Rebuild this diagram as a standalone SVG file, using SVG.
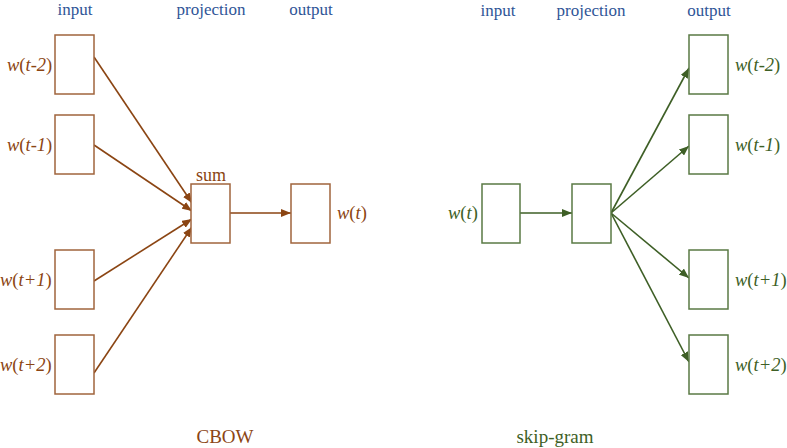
<svg xmlns="http://www.w3.org/2000/svg" width="787" height="448" viewBox="0 0 787 448">
<style>
.hdr{font-family:"Liberation Serif",serif;font-size:17px;fill:#2f5597;text-anchor:middle}
.lbl{font-family:"Liberation Serif",serif;font-size:18.5px}
.it{font-style:italic}
.b{fill:#8b4513}
.g{fill:#3e5f26}
.bbox{fill:#fff;stroke:#a0643c;stroke-width:1.5}
.gbox{fill:#fff;stroke:#5a7a44;stroke-width:1.5}
.bl{stroke:#8b4513;stroke-width:1.6;fill:none;marker-end:url(#ab)}
.gl{stroke:#3e5f26;stroke-width:1.6;fill:none;marker-end:url(#ag)}
.cap{font-family:"Liberation Serif",serif;font-size:19px;text-anchor:middle}
</style>
<defs>
<marker id="ab" markerWidth="10" markerHeight="8" refX="10" refY="4" orient="auto" markerUnits="userSpaceOnUse"><path d="M0,0 L10,4 L0,8 z" fill="#8b4513"/></marker>
<marker id="ag" markerWidth="10" markerHeight="8" refX="10" refY="4" orient="auto" markerUnits="userSpaceOnUse"><path d="M0,0 L10,4 L0,8 z" fill="#3e5f26"/></marker>
</defs>
<rect width="787" height="448" fill="#fff"/>
<g id="headers">
<text class="hdr" x="75" y="15">input</text>
<text class="hdr" x="211" y="15">projection</text>
<text class="hdr" x="311" y="15">output</text>
<text class="hdr" x="498" y="16">input</text>
<text class="hdr" x="591" y="16">projection</text>
<text class="hdr" x="709" y="16">output</text>
</g>
<g id="connectors">
<line class="bl" x1="94" y1="57" x2="192" y2="203"/>
<line class="bl" x1="94" y1="145" x2="192" y2="211"/>
<line class="bl" x1="94" y1="281" x2="192" y2="219"/>
<line class="bl" x1="94" y1="373" x2="192" y2="227"/>
<line class="bl" x1="230" y1="213" x2="291" y2="213"/>
<line class="gl" x1="520" y1="213" x2="572" y2="213"/>
<line class="gl" x1="611" y1="213" x2="689" y2="68"/>
<line class="gl" x1="611" y1="213" x2="689" y2="146"/>
<line class="gl" x1="611" y1="213" x2="689" y2="278"/>
<line class="gl" x1="611" y1="213" x2="689" y2="362"/>
</g>
<g id="cbow-in-t-2"><rect class="bbox" x="55" y="35" width="39" height="59"/><text class="lbl b" x="7" y="71"><tspan class="it">w</tspan>(<tspan class="it">t-2</tspan>)</text></g>
<g id="cbow-in-t-1"><rect class="bbox" x="55" y="115" width="39" height="59"/><text class="lbl b" x="7" y="151"><tspan class="it">w</tspan>(<tspan class="it">t-1</tspan>)</text></g>
<g id="cbow-in-t+1"><rect class="bbox" x="55" y="250" width="39" height="59"/><text class="lbl b" x="0" y="286"><tspan class="it">w</tspan>(<tspan class="it">t+1</tspan>)</text></g>
<g id="cbow-in-t+2"><rect class="bbox" x="55" y="335" width="39" height="59"/><text class="lbl b" x="0" y="371"><tspan class="it">w</tspan>(<tspan class="it">t+2</tspan>)</text></g>
<g id="cbow-sum"><rect class="bbox" x="191" y="184" width="39" height="59"/><text class="lbl b" x="211" y="181" text-anchor="middle" style="font-size:18px">sum</text></g>
<g id="cbow-out"><rect class="bbox" x="291" y="184" width="39" height="59"/><text class="lbl b" x="337" y="219"><tspan class="it">w</tspan>(<tspan class="it">t</tspan>)</text></g>
<g id="sg-in"><rect class="gbox" x="482" y="184" width="38" height="59"/><text class="lbl g" x="448" y="219"><tspan class="it">w</tspan>(<tspan class="it">t</tspan>)</text></g>
<g id="sg-proj"><rect class="gbox" x="572" y="184" width="39" height="59"/></g>
<g id="sg-out-t-2"><rect class="gbox" x="689" y="35" width="39" height="59"/><text class="lbl g" x="735" y="71"><tspan class="it">w</tspan>(<tspan class="it">t-2</tspan>)</text></g>
<g id="sg-out-t-1"><rect class="gbox" x="689" y="115" width="39" height="59"/><text class="lbl g" x="735" y="151"><tspan class="it">w</tspan>(<tspan class="it">t-1</tspan>)</text></g>
<g id="sg-out-t+1"><rect class="gbox" x="689" y="250" width="39" height="59"/><text class="lbl g" x="735" y="286"><tspan class="it">w</tspan>(<tspan class="it">t+1</tspan>)</text></g>
<g id="sg-out-t+2"><rect class="gbox" x="689" y="335" width="39" height="59"/><text class="lbl g" x="735" y="371"><tspan class="it">w</tspan>(<tspan class="it">t+2</tspan>)</text></g>
<g id="captions">
<text class="cap b" x="225" y="443">CBOW</text>
<text class="cap g" x="555" y="443">skip-gram</text>
</g>
</svg>
